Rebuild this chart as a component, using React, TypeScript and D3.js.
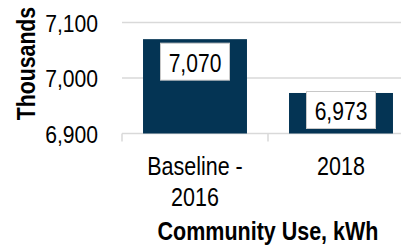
import React from 'react';
import * as d3 from 'd3';

const categories = ['Baseline - 2016', '2018'];
const categoryLines = [['Baseline -', '2016'], ['2018']];
const values = [7070, 6973];
const yTicks = [6900, 7000, 7100];

const W = 401;
const H = 247;
const FONT = '"Liberation Sans", Arial, sans-serif';
const BAR = '#043454';
const GRID = '#d9d9d9';

const App = () => {
    const x = d3
        .scaleBand()
        .domain(categories)
        .range([122, 414])
        .paddingInner(0.288)
        .paddingOuter(0.144);

    const y = d3.scaleLinear().domain([6900, 7100]).range([133.5, 22.5]);
    const y0 = y(6900);
    const fmt = d3.format(',');
    const step = x.step();
    const edges = [0, 1, 2].map(i => 122 + i * step);

    const boxW = 69;
    const boxH = 37;

    return (
        <svg
            width={W}
            height={H}
            style={{ position: 'absolute', left: 0, top: 0, background: '#fff' }}
            fontFamily={FONT}
        >
            {/* gridlines */}
            {yTicks.map(t => (
                <line key={t} x1={122} x2={W + 20} y1={y(t)} y2={y(t)} stroke={GRID} strokeWidth={1.5} />
            ))}
            {/* axis ticks */}
            {edges.map((e, i) => (
                <line key={i} x1={e} x2={e} y1={y0} y2={y0 + 8} stroke={GRID} strokeWidth={1.5} />
            ))}

            {/* y tick labels */}
            {yTicks.map(t => (
                <text
                    key={t}
                    transform={`translate(98,${y(t) + 9}) scale(0.88,1)`}
                    textAnchor="end"
                    fontSize={24}
                    fill="#000"
                >
                    {fmt(t)}
                </text>
            ))}

            {/* bars */}
            {categories.map((c, i) => (
                <rect
                    key={c}
                    x={x(c)}
                    y={y(values[i])}
                    width={x.bandwidth()}
                    height={y0 - y(values[i])}
                    fill={BAR}
                />
            ))}

            {/* data labels */}
            {categories.map((c, i) => {
                const cx = (x(c) ?? 0) + x.bandwidth() / 2;
                const top = Math.min(y(values[i]) + 4, y0 - boxH - 5);
                return (
                    <g key={c}>
                        <rect
                            x={cx - boxW / 2}
                            y={top}
                            width={boxW}
                            height={boxH}
                            fill="#fff"
                            stroke="#c8c8c8"
                            strokeWidth={1}
                        />
                        <text
                            transform={`translate(${cx},${top + 28.5}) scale(0.81,1)`}
                            textAnchor="middle"
                            fontSize={26}
                            fill="#000"
                        >
                            {fmt(values[i])}
                        </text>
                    </g>
                );
            })}

            {/* category labels */}
            {categories.map((c, i) => {
                const cx = (x(c) ?? 0) + x.bandwidth() / 2;
                return categoryLines[i].map((line, j) => (
                    <text
                        key={c + j}
                        transform={`translate(${cx},${175 + j * 31}) scale(0.86,1)`}
                        textAnchor="middle"
                        fontSize={25}
                        fill="#000"
                    >
                        {line}
                    </text>
                ));
            })}

            {/* x axis title */}
            <text
                transform={`translate(${(122 + 414) / 2},240) scale(0.86,1)`}
                textAnchor="middle"
                fontSize={25}
                fontWeight="bold"
                fill="#000"
            >
                Community Use, kWh
            </text>

            {/* y axis title */}
            <text
                transform="translate(35,63.5) rotate(-90) scale(0.85,1)"
                textAnchor="middle"
                fontSize={25}
                fontWeight="bold"
                fill="#000"
            >
                Thousands
            </text>
        </svg>
    );
};

export default App;
